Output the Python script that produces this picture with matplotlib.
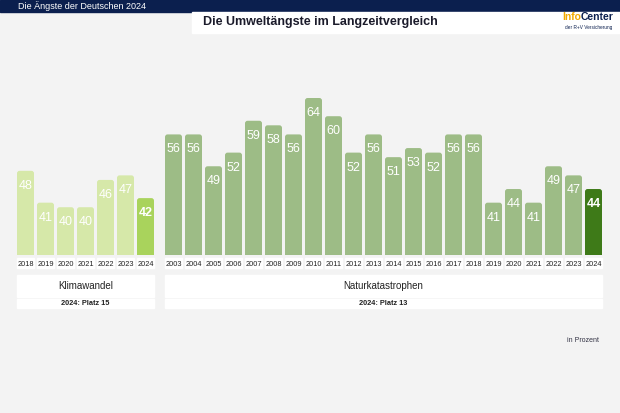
import matplotlib
matplotlib.use("Agg")
import matplotlib.pyplot as plt
import matplotlib.transforms as mtransforms
from matplotlib.patches import Rectangle, FancyBboxPatch

plt.rcParams["font.family"] = ["Liberation Sans", "DejaVu Sans"]

# data
klima_years = ["2018", "2019", "2020", "2021", "2022", "2023", "2024"]
klima_values = [48, 41, 40, 40, 46, 47, 42]
natur_years = [str(y) for y in range(2003, 2025)]
natur_values = [56, 56, 49, 52, 59, 58, 56, 64, 60, 52, 56, 51, 53, 52, 56, 56, 41, 44, 41, 49, 47, 44]
group_labels = ["Klimawandel", "Naturkatastrophen"]
rank_labels = ["2024: Platz 15", "2024: Platz 13"]

W, H = 620, 413
BG = "#f3f3f3"
NAVY = "#0b1f4e"
KLIMA_C, KLIMA_LAST = "#d6e8a9", "#a9d35c"
NATUR_C, NATUR_LAST = "#9dbc86", "#3e7a18"


def fx(px):
    return px / W


def fy(py):
    return 1 - py / H


fig = plt.figure(figsize=(W / 100, H / 100), dpi=100, facecolor=BG)

# header
fig.patches.append(Rectangle((0, fy(12)), 1, 12 / H, transform=fig.transFigure, color=NAVY, zorder=0))
fig.patches.append(Rectangle((fx(192), fy(33)), 1 - fx(192), 21 / H, transform=fig.transFigure,
                             color="white", zorder=0))
fig.text(fx(18), fy(6), "Die Ängste der Deutschen 2024", color="white", fontsize=6.5, va="center")
fig.text(fx(203), fy(22.5), "Die Umweltängste im Langzeitvergleich", color="#1b1b2b", fontsize=9,
         fontweight="bold", va="center")
fig.text(fx(581), fy(17), "Info", color="#f2a900", fontsize=7.5, fontweight="bold", va="center", ha="right")
fig.text(fx(581), fy(17), "Center", color=NAVY, fontsize=7.5, fontweight="bold", va="center", ha="left")
fig.text(fx(612), fy(27), "der R+V Versicherung", color=NAVY, fontsize=3.4, va="center", ha="right")

# main axes: baseline at y=255 px, top at 90 px
ax = fig.add_axes([fx(10), fy(255), 600 / W, 165 / H])
ax.set_zorder(3)
ax.set_facecolor("none")
for s in ax.spines.values():
    s.set_visible(False)

offset = 7.4
kx = list(range(len(klima_values)))
nx = [offset + i for i in range(len(natur_values))]
bw = 0.85

ax.set_xlim(-0.775, 29.225)
ax.set_ylim(29.5, 65.76)
aspect = 20 / 4.55  # px per x unit / px per y unit

kcol = [KLIMA_C] * (len(klima_values) - 1) + [KLIMA_LAST]
ncol = [NATUR_C] * (len(natur_values) - 1) + [NATUR_LAST]
for bars in (ax.bar(kx, klima_values, width=bw, color=kcol), ax.bar(nx, natur_values, width=bw, color=ncol)):
    for r in bars:
        rb = FancyBboxPatch((r.get_x(), r.get_y()), r.get_width(), r.get_height(),
                            boxstyle="round,pad=0,rounding_size=0.13", mutation_aspect=aspect,
                            facecolor=r.get_facecolor(), edgecolor="none")
        ax.add_patch(rb)
        r.remove()

for xs, vals in ((kx, klima_values), (nx, natur_values)):
    for i, (x, v) in enumerate(zip(xs, vals)):
        last = i == len(vals) - 1
        ax.text(x, v - 3.3, str(v), ha="center", va="center", color="white", fontsize=9,
                fontweight="bold" if last else "normal")

ax.set_yticks([])
ax.set_xticks(kx + nx)
ax.set_xticklabels(klima_years + natur_years, fontsize=5.3, color="#222222")
ax.tick_params(axis="x", length=0, pad=4)

# white cells behind year labels and group boxes below
trans = mtransforms.blended_transform_factory(ax.transData, fig.transFigure)
for x in kx + nx:
    fig.patches.append(Rectangle((x - bw / 2, fy(268)), bw, 10 / H, transform=trans, color="white", zorder=0))

spans = [(kx[0] - bw / 2, kx[-1] + bw / 2), (nx[0] - bw / 2, nx[-1] + bw / 2)]
for (x0, x1), name, rank in zip(spans, group_labels, rank_labels):
    fig.patches.append(Rectangle((x0, fy(297)), x1 - x0, 22 / H, transform=trans, color="white", zorder=0))
    fig.patches.append(Rectangle((x0, fy(308)), x1 - x0, 9 / H, transform=trans, color="white", zorder=0))
    fig.text((x0 + x1) / 2, fy(286), name, transform=trans, ha="center", va="center", fontsize=7,
             color="#222222")
    fig.text((x0 + x1) / 2, fy(303.5), rank, transform=trans, ha="center", va="center", fontsize=5.3,
             fontweight="bold", color="#222222")

fig.text(fx(583), fy(341), "in Prozent", ha="center", va="center", fontsize=5, color="#333344")

fig.savefig("out.png", dpi=100, facecolor=BG)
